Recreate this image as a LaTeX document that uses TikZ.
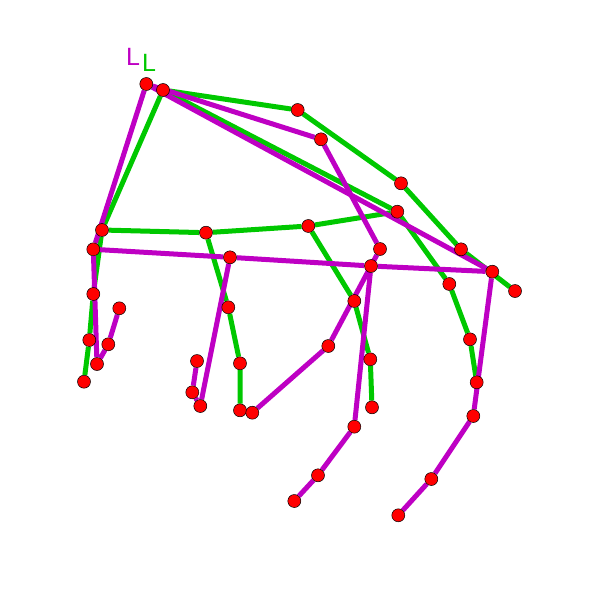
\documentclass[tikz,border=0pt]{standalone}
\usepackage{fontspec}
\setmainfont{Liberation Sans}
\usepackage{tikz}
\usetikzlibrary{backgrounds}
\definecolor{lgreen}{RGB}{0,200,0}
\definecolor{lmagenta}{RGB}{190,0,195}

\begin{document}
\begin{tikzpicture}[x=1pt, y=-1pt,
    joint/.style={circle, fill=red, draw=black, line width=0.5pt, inner sep=0pt, minimum size=13pt},
    bone/.style={line width=5pt},
    tag/.style={anchor=base west, inner sep=0pt, font=\fontsize{25}{25}\selectfont}]

      \useasboundingbox (0,0) rectangle (600,600);

      % green hand
	\node [joint] at (163,90) (gw) {};
	\node [joint] at (297.7,110) (gt1) {};
	\node [joint] at (401,183.3) (gt2) {};
	\node [joint] at (461,249.3) (gt3) {};
	\node [joint] at (515,291) (gt4) {};
	\node [joint] at (397.3,211.7) (gi0) {};
	\node [joint] at (449.3,284) (gi1) {};
	\node [joint] at (470,339.3) (gi2) {};
	\node [joint] at (476.7,382.3) (gi3) {};
	\node [joint] at (308.3,226) (gm0) {};
	\node [joint] at (354.3,301) (gm1) {};
	\node [joint] at (370.3,359.3) (gm2) {};
	\node [joint] at (372,407.3) (gm3) {};
	\node [joint] at (206,232.7) (gr0) {};
	\node [joint] at (228.3,307.3) (gr1) {};
	\node [joint] at (240,363.3) (gr2) {};
	\node [joint] at (240,410.3) (gr3) {};
	\node [joint] at (102,230) (gp0) {};
	\node [joint] at (93.3,294) (gp1) {};
	\node [joint] at (89.3,340) (gp2) {};
	\node [joint] at (84,381.7) (gp3) {};

      % magenta hand
	\node [joint] at (146.3,84) (mw) {};
	\node [joint] at (321,139.3) (mt1) {};
	\node [joint] at (380,249) (mt2) {};
	\node [joint] at (328.3,346) (mt3) {};
	\node [joint] at (252.3,412.7) (mt4) {};
	\node [joint] at (492.3,271.7) (mi0) {};
	\node [joint] at (473.3,416) (mi1) {};
	\node [joint] at (431.3,479) (mi2) {};
	\node [joint] at (398.3,515.3) (mi3) {};
	\node [joint] at (371,266) (mm0) {};
	\node [joint] at (354.3,426.7) (mm1) {};
	\node [joint] at (318,475.3) (mm2) {};
	\node [joint] at (294.3,501) (mm3) {};
	\node [joint] at (230,257.3) (mr0) {};
	\node [joint] at (200.3,406) (mr1) {};
	\node [joint] at (192.3,392.3) (mr2) {};
	\node [joint] at (197,361) (mr3) {};
	\node [joint] at (93.3,249.3) (mp0) {};
	\node [joint] at (97,364) (mp1) {};
	\node [joint] at (108.3,344.3) (mp2) {};
	\node [joint] at (119.3,308.3) (mp3) {};

	\node [tag, text=lmagenta] at (126,65) (lm) {L};
	\node [tag, text=lgreen] at (142,71) (lg) {L};

    % 
    % Bones
      \begin{scope}[on background layer]
	\draw [bone, lgreen] (gw) -- (gt1) -- (gt2) -- (gt3) -- (gt4);
	\draw [bone, lgreen] (gw) -- (gi0) -- (gi1) -- (gi2) -- (gi3);
	\draw [bone, lgreen] (gw) -- (gp0) -- (gp1) -- (gp2) -- (gp3);
	\draw [bone, lgreen] (gp0) -- (gr0) -- (gm0) -- (gi0);
	\draw [bone, lgreen] (gm0) -- (gm1) -- (gm2) -- (gm3);
	\draw [bone, lgreen] (gr0) -- (gr1) -- (gr2) -- (gr3);

	\draw [bone, lmagenta] (mw) -- (mt1) -- (mt2) -- (mt3) -- (mt4);
	\draw [bone, lmagenta] (mw) -- (mi0) -- (mi1) -- (mi2) -- (mi3);
	\draw [bone, lmagenta] (mw) -- (mp0) -- (mp1) -- (mp2) -- (mp3);
	\draw [bone, lmagenta] (mp0) -- (mr0) -- (mm0) -- (mi0);
	\draw [bone, lmagenta] (mm0) -- (mm1) -- (mm2) -- (mm3);
	\draw [bone, lmagenta] (mr0) -- (mr1) -- (mr2) -- (mr3);
      \end{scope}
    \end{tikzpicture}
\end{document}
